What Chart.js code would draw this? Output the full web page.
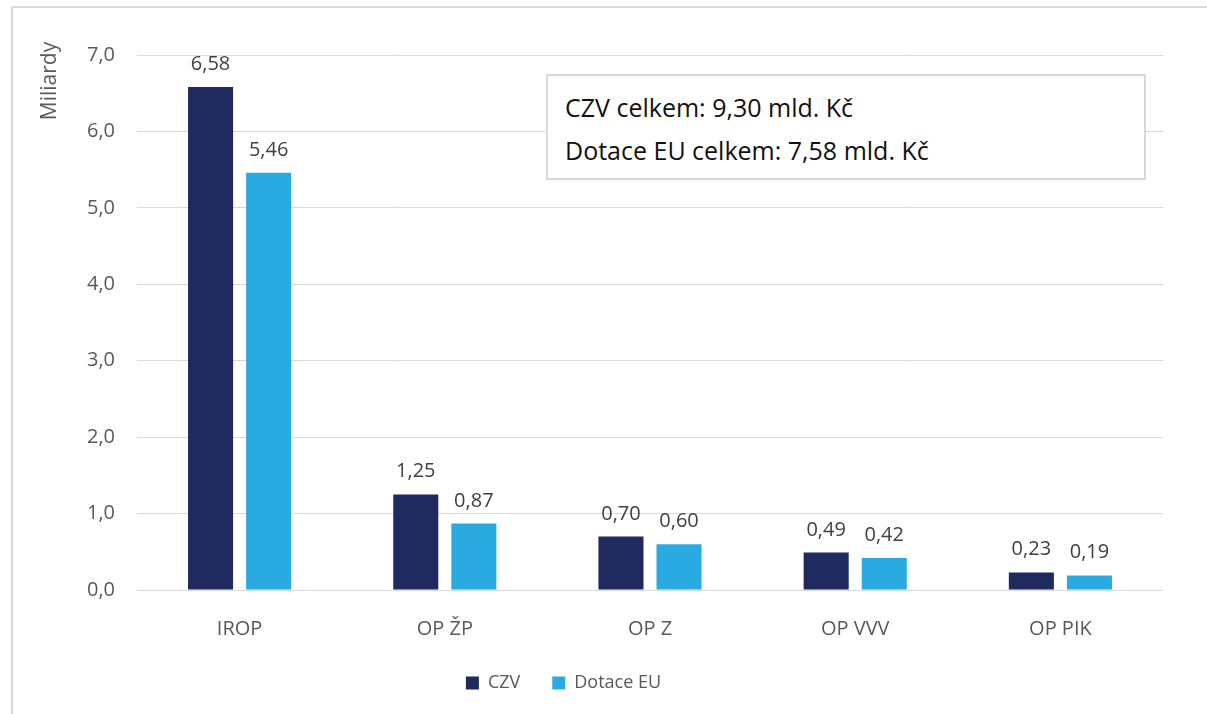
<!DOCTYPE html>
<html lang="cs">
<head>
<meta charset="UTF-8">
<title>CZV a Dotace EU podle programů</title>
<script src="https://cdn.jsdelivr.net/npm/chart.js"></script>
<style>
    body {margin: 0;
          background: #fff;
          font-family: "Open Sans", sans-serif;}

    #wrap {position: relative;
           width: 1207px;
           height: 714px;
           overflow: hidden;}

    #ramec {position: absolute;
            left: 11px; top: 6px;
            width: 1300px; height: 800px;
            border-top: 2px solid #d9d9d9;
            border-left: 2px solid #d9d9d9;}

    #graf {position: absolute; left: 0; top: 0;}

    #souhrn {position: absolute;
             left: 546px; top: 74px;
             width: 596px; height: 92px;
             padding-top: 10px;
             border: 2px solid #d9d9d9;
             background: #fff;
             color: #111;
             font-size: 25px;}

    #souhrn p {margin: 0 0 0 17px;
               line-height: 43px;}
</style>
</head>
<body>
<div id="wrap">
    <div id="ramec"></div>
    <canvas id="graf" width="1207" height="714"></canvas>
    <div id="souhrn">
        <p>CZV celkem: 9,30 mld. Kč</p>
        <p>Dotace EU celkem: 7,58 mld. Kč</p>
    </div>
</div>

<script>
    // data
    const kategorie = ['IROP', 'OP ŽP', 'OP Z', 'OP VVV', 'OP PIK'];
    const czv = [6.58, 1.25, 0.70, 0.49, 0.23];
    const dotaceEU = [5.46, 0.87, 0.60, 0.42, 0.19];
    const nazvyRad = ['CZV', 'Dotace EU'];
    const barvy = ['#1f2a5e', '#29abe2'];
    const osaYMin = 0;
    const osaYMax = 7;
    const osaYKrok = 1;
    const titulekY = 'Miliardy';

    const sediva = '#595959';
    const mrizka = '#d9d9d9';

    function cislo(v, des) {
        return v.toFixed(des).replace('.', ',');
    }

    // hodnoty nad sloupci
    const popisky = {
        id: 'popisky',
        afterDatasetsDraw(chart) {
            const ctx = chart.ctx;
            ctx.save();
            ctx.font = '20px "Open Sans"';
            ctx.fillStyle = '#404040';
            ctx.textAlign = 'center';
            ctx.textBaseline = 'alphabetic';
            chart.data.datasets.forEach((ds, i) => {
                chart.getDatasetMeta(i).data.forEach((bar, j) => {
                    ctx.fillText(cislo(ds.data[j], 2), bar.x, bar.y - 17);
                });
            });
            ctx.restore();
        }
    };

    // svisly popisek osy nahore
    const popisekOsy = {
        id: 'popisekOsy',
        afterDraw(chart) {
            const ctx = chart.ctx;
            ctx.save();
            ctx.font = '21px "Open Sans"';
            ctx.fillStyle = sediva;
            ctx.textAlign = 'center';
            ctx.textBaseline = 'middle';
            ctx.translate(50, chart.chartArea.top + 26);
            ctx.rotate(-Math.PI / 2);
            ctx.fillText(titulekY, 0, 0);
            ctx.restore();
        }
    };

    new Chart(document.getElementById('graf'), {
        type: 'bar',
        data: {
            labels: kategorie,
            datasets: [
                {label: nazvyRad[0], data: czv, backgroundColor: barvy[0]},
                {label: nazvyRad[1], data: dotaceEU, backgroundColor: barvy[1]}
            ]
        },
        options: {
            responsive: false,
            animation: false,
            categoryPercentage: 0.566,
            barPercentage: 0.776,
            layout: {padding: {left: 0, right: 44, top: 55, bottom: 12}},
            plugins: {
                tooltip: {enabled: false},
                legend: {
                    position: 'bottom',
                    labels: {
                        boxWidth: 13, boxHeight: 13,
                        color: sediva,
                        font: {family: 'Open Sans', size: 18},
                        padding: 14,
                        // vetsi mezera mezi polozkami legendy
                        generateLabels(chart) {
                            const polozky = Chart.defaults.plugins.legend.labels.generateLabels(chart);
                            polozky[0].text += '\u2003';
                            polozky[1].text += '\u2003\u2003';
                            return polozky;
                        }
                    }
                }
            },
            scales: {
                x: {
                    grid: {display: false},
                    border: {display: false},
                    ticks: {color: sediva, padding: 19,
                            font: {family: 'Open Sans', size: 20}}
                },
                y: {
                    min: osaYMin, max: osaYMax,
                    afterFit(s) { s.width = 137; },
                    grid: {color: mrizka, lineWidth: 1, drawTicks: false},
                    border: {display: false},
                    ticks: {stepSize: osaYKrok, color: sediva, padding: 22,
                            font: {family: 'Open Sans', size: 20},
                            callback: v => cislo(v, 1)}
                }
            }
        },
        plugins: [popisky, popisekOsy]
    });
</script>
</body>
</html>
